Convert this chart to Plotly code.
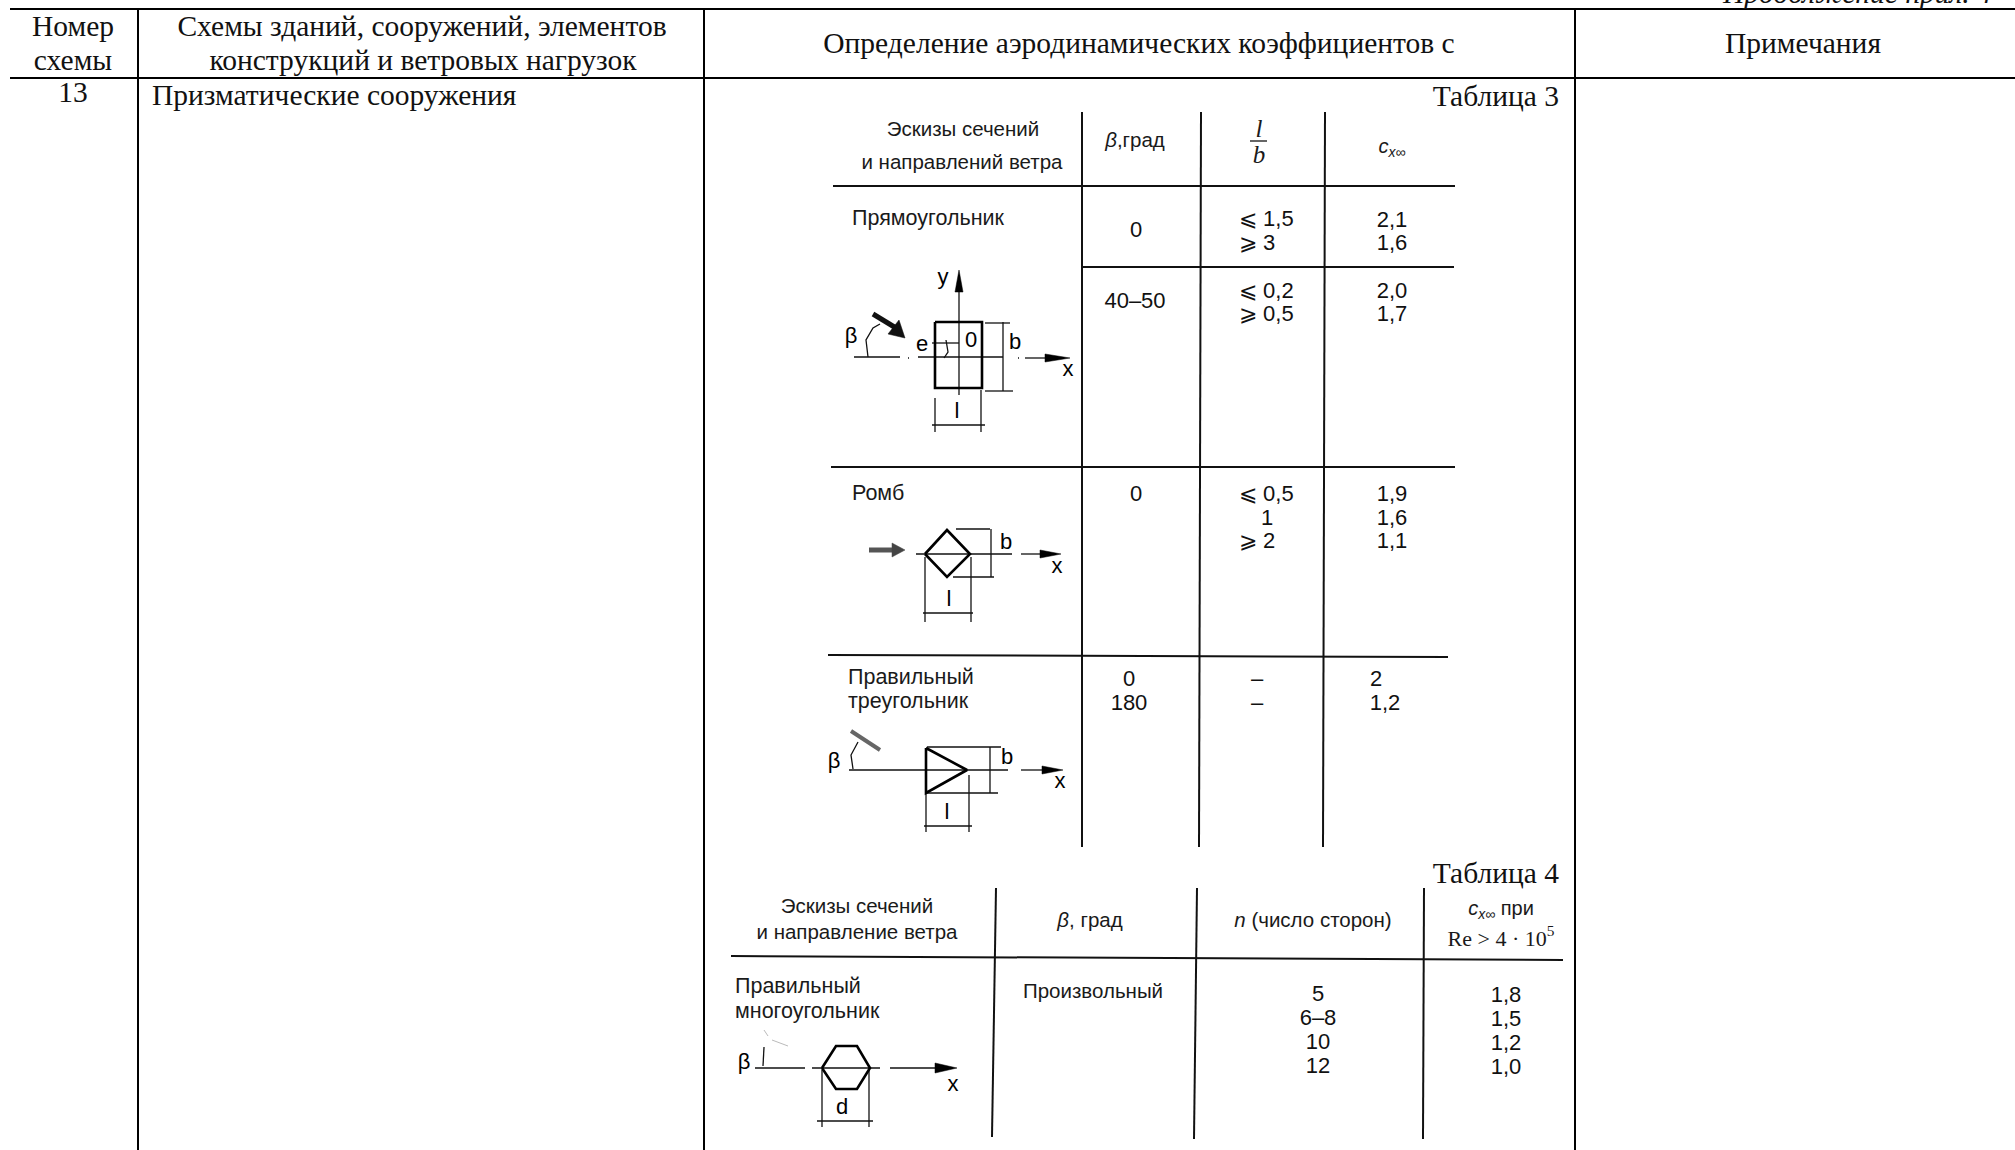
import plotly.graph_objects as go

# ---------- outer table ----------
rule_h = [[(10, 9), (2015, 9)], [(10, 78), (2015, 78)]]
rule_v = [[(138, 9), (138, 1150)], [(704, 9), (704, 1150)], [(1575, 9), (1575, 1150)]]

serif_labels = ["Номер", "схемы", "Схемы зданий, сооружений, элементов", "конструкций и ветровых нагрузок",
                "Определение аэродинамических коэффициентов с", "Примечания", "13"]
serif_x = [73, 73, 422, 423, 1139, 1803, 73]
serif_y = [29, 63, 29, 63, 46, 46, 95]
left_serif = ["Призматические сооружения"]
left_serif_x = [152]
left_serif_y = [98]
table_titles = ["Таблица 3", "Таблица 4"]
table_titles_x = [1559, 1559]
table_titles_y = [99, 876]

# ---------- table 3 / 4 rules ----------
t3_rules = [[(1082, 112), (1082, 847)], [(1201, 112), (1199, 847)], [(1325, 112), (1323, 847)],
            [(833, 186), (1455, 186)], [(1082, 267), (1454, 267)], [(831, 467), (1455, 467)], [(828, 655), (1448, 657)]]
t4_rules = [[(996, 888), (992, 1137)], [(1197, 888), (1194, 1139)], [(1424, 888), (1423, 1139)],
            [(731, 956), (1563, 960)]]
fraction_bar = [[(1250, 141), (1267, 141)]]

# ---------- sans labels of the inserted tables ----------
sans_words = ["Эскизы сечений", "и направлений ветра", "<i>β</i>,град",
              "Эскизы сечений", "и направление ветра", "<i>β</i>, град", "<i>n</i> (число сторон)",
              "Произвольный"]
sans_words_x = [963, 962, 1135, 857, 857, 1090, 1313, 1093]
sans_words_y = [131, 164, 142, 908, 934, 922, 922, 993]
nums = ["0", "40–50", "0", "0", "180", "–", "–",
        "2,1", "1,6", "2,0", "1,7", "1,9", "1,6", "1,1", "1",
        "5", "6–8", "10", "12", "1,8", "1,5", "1,2", "1,0", "2", "1,2"]
nums_x = [1136, 1135, 1136, 1129, 1129, 1257, 1257,
          1392, 1392, 1392, 1392, 1392, 1392, 1392, 1267,
          1318, 1318, 1318, 1318, 1506, 1506, 1506, 1506, 1376, 1385]
nums_y = [231, 302, 495, 680, 704, 680, 704,
          221, 244, 292, 315, 495, 519, 542, 519,
          995, 1019, 1043, 1067, 996, 1020, 1044, 1068, 680, 704]
coef_lbl = ["<i>c</i><sub><i>x</i>∞</sub>", "<i>c</i><sub><i>x</i>∞</sub> при"]
coef_x = [1392, 1501]
coef_y = [148, 910]
re_lbl = ["Re > 4 · 10<sup>5</sup>"]
re_x = [1501]
re_y = [940]
frac_lbl = ["<i>l</i>", "<i>b</i>"]
frac_x = [1259, 1259]
frac_y = [131, 157]
sans_l = ["Прямоугольник", "Ромб", "Правильный", "треугольник", "Правильный", "многоугольник"]
sans_l_x = [852, 852, 848, 848, 735, 735]
sans_l_y = [220, 495, 679, 703, 988, 1013]
ineq = ["⩽ 1,5", "⩾ 3", "⩽ 0,2", "⩾ 0,5", "⩽ 0,5", "⩾ 2"]
ineq_x = [1239, 1239, 1239, 1239, 1239, 1239]
ineq_y = [220, 244, 292, 315, 495, 542]

# ---------- sketch labels ----------
sketch_lbl = ["y", "x", "β", "e", "0", "b", "l", "x", "b", "l", "β", "x", "b", "l", "β", "x", "d"]
sketch_x = [943, 1068, 851, 922, 971, 1015, 957, 1057, 1006, 949, 834, 1060, 1007, 947, 744, 953, 842]
sketch_y = [278, 370, 337, 345, 341, 343, 412, 567, 543, 600, 762, 782, 758, 813, 1063, 1085, 1108]

# ---------- sketches ----------
thick = [
    [(935, 322), (982, 322), (982, 388), (935, 388), (935, 322)],
    [(925, 554), (947, 530), (970, 554), (947, 577), (925, 554)],
    [(926, 748), (967, 770), (926, 793), (926, 748)],
    [(822, 1068), (836, 1046), (857, 1046), (870, 1068), (857, 1089), (836, 1089), (822, 1068)],
]
thin = [
    # rectangle
    [(959, 290), (959, 395)], [(854, 357), (900, 357)], [(908, 358), (909, 358)], [(918, 357), (1003, 357)],
    [(1018, 358), (1019, 358)], [(1025, 358), (1050, 358)], [(868, 357), (866, 340), (873, 328), (880, 324)],
    [(985, 323), (1010, 323)], [(985, 391), (1013, 391)], [(1003, 322), (1003, 391)],
    [(932, 425), (985, 425)], [(935, 398), (935, 432)], [(981, 390), (981, 432)],
    [(932, 343), (959, 343)], [(946, 340), (948, 352), (944, 358)],
    # rhomb
    [(916, 554), (1012, 554)], [(1021, 554), (1045, 554)],
    [(956, 529), (990, 529)], [(953, 577), (994, 577)], [(991, 529), (991, 577)],
    [(923, 613), (973, 613)], [(925, 557), (925, 622)], [(971, 557), (971, 622)],
    # triangle
    [(849, 770), (1008, 770)], [(1021, 770), (1048, 770)], [(853, 769), (851, 755), (858, 742)],
    [(927, 747), (1001, 747)], [(927, 793), (998, 793)], [(990, 747), (990, 793)],
    [(924, 826), (972, 826)], [(926, 793), (926, 832)], [(969, 775), (969, 832)],
    # polygon
    [(755, 1068), (805, 1068)], [(812, 1068), (880, 1068)], [(890, 1068), (935, 1068)], [(763, 1066), (764, 1047)],
    [(817, 1121), (873, 1121)], [(822, 1070), (822, 1127)], [(869, 1070), (869, 1127)],
]
heads = [
    [(959, 270), (955, 292), (963, 292)],
    [(1070, 358), (1045, 354), (1045, 362)],
    [(1061, 554), (1040, 550), (1040, 558)],
    [(1063, 770), (1042, 766), (1042, 774)],
    [(957, 1068), (935, 1063), (935, 1073)],
]
wind_dark = [[(873, 314), (896, 328)]]
wind_dark_head = [[(905, 338), (888, 334), (899, 320)]]
wind_mid = [[(869, 550), (893, 550)]]
wind_mid_head = [[(905, 550), (892, 543), (892, 557)]]
wind_light = [[(851, 731), (880, 750)]]
wind_faint = [[(764, 1030), (768, 1036)], [(772, 1040), (788, 1046)]]


def polylines(groups):
    xs, ys = [], []
    for g in groups:
        xs += [p[0] for p in g] + [None]
        ys += [p[1] for p in g] + [None]
    return xs, ys


fig = go.Figure()


def add_lines(groups, width, color="#000000"):
    xs, ys = polylines(groups)
    fig.add_trace(go.Scatter(x=xs, y=ys, mode="lines", line=dict(width=width, color=color), hoverinfo="skip"))


def add_fill(groups, color):
    for g in groups:
        xs = [p[0] for p in g] + [g[0][0]]
        ys = [p[1] for p in g] + [g[0][1]]
        fig.add_trace(go.Scatter(x=xs, y=ys, mode="lines", fill="toself", fillcolor=color,
                                 line=dict(width=0.5, color=color), hoverinfo="skip"))


def add_text(txt, xs, ys, family, size, pos="middle center", color="#000000"):
    fig.add_trace(go.Scatter(x=xs, y=ys, text=txt, mode="text", textposition=pos,
                             textfont=dict(family=family, size=size, color=color), hoverinfo="skip"))


SERIF = "Liberation Serif"
SANS = "Liberation Sans"

add_lines(rule_h + rule_v, 2)
add_lines(t3_rules + t4_rules, 2, "#111111")
add_lines(fraction_bar, 1.5, "#333333")
add_lines(thin, 1.3, "#111111")
add_lines(thick, 2.6)
add_lines(wind_dark, 5, "#111111")
add_fill(wind_dark_head, "#111111")
add_lines(wind_mid, 5, "#555555")
add_fill(wind_mid_head, "#444444")
add_lines(wind_light, 4, "#666666")
add_lines(wind_faint, 1, "#bbbbbb")
add_fill(heads, "#000000")

add_text(serif_labels, serif_x, serif_y, SERIF, 29.5, "middle center", "#111111")
add_text(left_serif, left_serif_x, left_serif_y, SERIF, 29.5, "middle right", "#111111")
add_text(table_titles, table_titles_x, table_titles_y, SERIF, 29.5, "middle left", "#111111")
add_text(sans_words, sans_words_x, sans_words_y, SANS, 20.5, "middle center", "#1a1a1a")
add_text(nums, nums_x, nums_y, SANS, 22, "middle center", "#111111")
add_text(coef_lbl, coef_x, coef_y, SANS, 20, "middle center", "#1a1a1a")
add_text(re_lbl, re_x, re_y, SERIF, 22, "middle center", "#1a1a1a")
add_text(frac_lbl, frac_x, frac_y, SERIF, 25, "middle center", "#1a1a1a")
add_text(sans_l, sans_l_x, sans_l_y, SANS, 21.5, "middle right", "#1a1a1a")
add_text(ineq, ineq_x, ineq_y, SANS, 22, "middle right", "#111111")
add_text(sketch_lbl, sketch_x, sketch_y, SANS, 22, "middle center", "#000000")

fig.add_annotation(text="<i>Продолжение прил. 4</i>", x=1720, y=0, xref="x", yref="y", xanchor="left",
                   yanchor="middle", yshift=7, showarrow=False,
                   font=dict(family=SERIF, size=29.5, color="#111111"))

fig.update_layout(width=2015, height=1150, margin=dict(l=0, r=0, t=0, b=0), showlegend=False,
                  plot_bgcolor="white", paper_bgcolor="white", hovermode=False,
                  xaxis=dict(range=[0, 2015], visible=False, fixedrange=True),
                  yaxis=dict(range=[1150, 0], visible=False, fixedrange=True))
fig.write_html("out.html", config=dict(displayModeBar=False),
               post_script="document.body.style.margin='0';document.body.style.overflow='hidden';")
